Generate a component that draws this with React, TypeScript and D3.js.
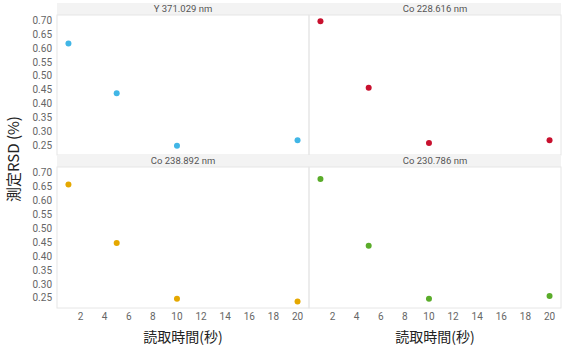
import { useRef, useEffect } from 'react'
import * as d3 from 'd3'

// read time (s) and measured RSD (%) per emission line
const readTimes = [1, 5, 10, 20]
const panelNames = ['Y 371.029 nm', 'Co 228.616 nm', 'Co 238.892 nm', 'Co 230.786 nm']
const rsdY371 = [0.62, 0.44, 0.25, 0.27]
const rsdCo228 = [0.7, 0.46, 0.26, 0.27]
const rsdCo238 = [0.66, 0.45, 0.25, 0.24]
const rsdCo230 = [0.68, 0.44, 0.25, 0.26]
const panelColors = ['#41b6e6', '#c8102e', '#e5a800', '#5aac2a']
const xTicks = [2, 4, 6, 8, 10, 12, 14, 16, 18, 20]
const yTicks = [0.25, 0.3, 0.35, 0.4, 0.45, 0.5, 0.55, 0.6, 0.65, 0.7]
const xTitle = '読取時間(秒)'
const yTitle = '測定RSD (%)'

const W = 565
const H = 353
const FONT = "Roboto, 'Noto Sans', sans-serif"
const JP = "'Noto Sans CJK JP', sans-serif"

export default function App() {
  const svgRef = useRef<SVGSVGElement>(null)

  useEffect(() => {
    document.body.style.margin = '0'
    const svg = d3.select(svgRef.current)
    svg.selectAll('*').remove()

    const series = [rsdY371, rsdCo228, rsdCo238, rsdCo230]
    const allVals = series.flat()
    const ymin = d3.min(allVals)!
    const ymax = d3.max(allVals)!
    const ypad = (ymax - ymin) * 0.05
    const xpad = (20 - 1) * 0.05

    const left = 57
    const right = 561
    const panelW = (right - left) / 2
    const stripH = 12
    const rows = [
      { top: 3, bottom: 155 },
      { top: 155, bottom: 308 },
    ]

    series.forEach((vals, i) => {
      const col = i % 2
      const row = Math.floor(i / 2)
      const x0 = left + col * panelW
      const x1 = x0 + panelW
      const py0 = rows[row].top + stripH
      const py1 = rows[row].bottom

      const x = d3.scaleLinear().domain([1 - xpad, 20 + xpad]).range([x0, x1])
      const y = d3.scaleLinear().domain([ymin - ypad, ymax + ypad]).range([py1, py0])

      const g = svg.append('g')

      // strip
      g.append('rect')
        .attr('x', x0)
        .attr('y', rows[row].top)
        .attr('width', panelW)
        .attr('height', stripH)
        .attr('fill', '#f3f3f3')
      g.append('text')
        .attr('x', (x0 + x1) / 2)
        .attr('y', rows[row].top + stripH / 2 + 0.5)
        .attr('text-anchor', 'middle')
        .attr('dominant-baseline', 'middle')
        .attr('fill', '#555')
        .attr('font-size', '9.5px')
        .attr('font-family', FONT)
        .text(panelNames[i])

      // panel border
      g.append('rect')
        .attr('x', x0)
        .attr('y', py0)
        .attr('width', panelW)
        .attr('height', py1 - py0)
        .attr('fill', 'none')
        .attr('stroke', '#e6e6e6')
        .attr('stroke-width', 1)

      // y tick labels on left column
      if (col === 0) {
        yTicks.forEach((t) => {
          g.append('text')
            .attr('x', x0 - 5)
            .attr('y', y(t))
            .attr('text-anchor', 'end')
            .attr('dominant-baseline', 'middle')
            .attr('fill', '#666')
            .attr('font-size', '10px')
            .attr('font-family', FONT)
            .text(d3.format('.2f')(t))
        })
      }

      // x tick labels on bottom row
      if (row === 1) {
        xTicks.forEach((t) => {
          g.append('text')
            .attr('x', x(t))
            .attr('y', py1 + 9)
            .attr('text-anchor', 'middle')
            .attr('dominant-baseline', 'middle')
            .attr('fill', '#666')
            .attr('font-size', '10px')
            .attr('font-family', FONT)
            .text(t)
        })
        g.append('text')
          .attr('x', (x0 + x1) / 2)
          .attr('y', 338)
          .attr('text-anchor', 'middle')
          .attr('dominant-baseline', 'middle')
          .attr('fill', '#222')
          .attr('font-size', '14px')
          .attr('font-family', JP)
          .text(xTitle)
      }

      // points
      readTimes.forEach((t, j) => {
        g.append('circle')
          .attr('cx', x(t))
          .attr('cy', y(vals[j]))
          .attr('r', 3)
          .attr('fill', panelColors[i])
      })
    })

    svg
      .append('text')
      .attr('transform', `translate(15,159) rotate(-90)`)
      .attr('text-anchor', 'middle')
      .attr('dominant-baseline', 'middle')
      .attr('fill', '#222')
      .attr('font-size', '15px')
      .attr('font-family', JP)
      .text(yTitle)
  }, [])

  return <svg ref={svgRef} width={W} height={H} style={{ display: 'block', background: '#fff' }} />
}
